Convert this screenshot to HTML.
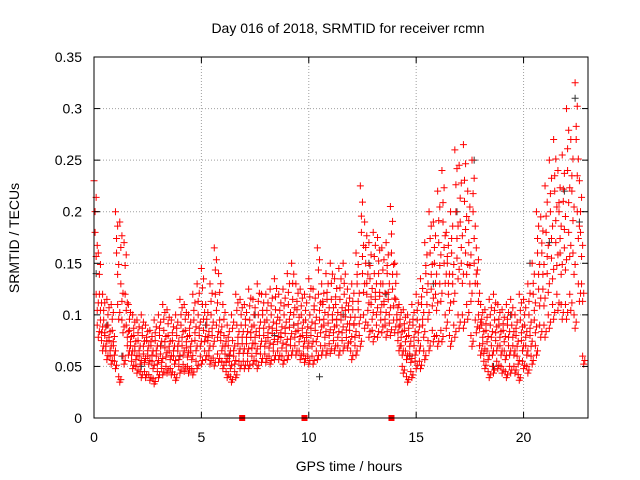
<!DOCTYPE html>
<html><head><meta charset="utf-8"><style>
body{margin:0;background:#fff}
svg{display:block;font-family:"Liberation Sans",sans-serif}
</style></head><body>
<svg id="chart" width="640" height="480" viewBox="0 0 640 480">
<rect x="0" y="0" width="640" height="480" fill="#fff"/>
<text x="348" y="33" font-size="14" text-anchor="middle">Day 016 of 2018, SRMTID for receiver rcmn</text>
<text transform="translate(19,238) rotate(-90)" font-size="14" text-anchor="middle">SRMTID / TECUs</text>
<text x="349" y="471" font-size="14" text-anchor="middle">GPS time / hours</text>
<g id="grid"></g>
<g id="marks"></g>
<g id="axes"></g>
</svg>
<script>
const xTicks=[0,5,10,15,20];
const yTicks=[0,0.05,0.1,0.15,0.2,0.25,0.3,0.35];
const yTickLabels=["0","0.05","0.1","0.15","0.2","0.25","0.3","0.35"];
const stepHours=0.2;
const hiVals=[230,160,120,115,110,200,190,170,110,100,95,100,90,85,95,100,110,105,95,100,115,110,100,120,130,145,110,130,165,140,110,90,100,120,115,110,125,115,130,120,120,125,135,120,125,140,150,130,125,120,135,125,165,130,140,150,135,145,150,125,130,160,225,190,170,180,175,165,170,205,150,110,105,100,110,120,135,170,200,190,220,240,180,200,260,245,265,220,250,165,110,105,115,120,110,105,110,115,100,120,115,130,150,200,195,225,250,270,240,255,300,270,325,230];
const midHiVals=[180,120,95,90,85,160,130,120,85,80,75,80,75,70,75,80,85,80,75,80,90,85,80,95,100,110,90,100,120,95,80,70,75,90,90,90,95,90,100,100,95,100,105,95,100,110,115,105,100,95,100,105,120,110,115,115,110,115,120,105,105,130,180,150,135,140,140,130,140,160,115,90,85,80,90,95,110,140,160,150,170,190,150,160,200,190,210,170,200,130,90,85,90,95,90,85,90,90,80,95,90,100,120,160,160,180,200,220,200,210,240,220,270,180];
const midLoVals=[120,95,80,75,70,110,95,90,70,65,60,62,60,55,60,62,68,65,60,65,70,68,65,75,80,85,75,80,90,75,62,55,60,72,72,72,78,72,80,80,78,82,85,78,82,88,90,85,80,78,80,85,95,90,92,95,90,95,98,85,90,105,140,120,110,115,118,110,115,125,95,70,65,62,70,75,90,110,125,120,130,150,120,130,155,150,160,130,150,100,72,65,70,75,70,65,70,70,60,75,70,80,95,125,125,140,155,170,160,165,180,160,200,130];
const loVals=[90,75,65,60,55,40,60,70,55,50,45,45,42,38,45,48,50,48,42,50,52,50,48,55,60,65,60,58,62,55,45,40,45,55,55,55,60,55,62,62,60,65,65,60,65,70,70,65,62,60,60,65,70,70,72,75,70,75,78,65,70,80,100,90,85,90,95,90,92,95,75,50,40,45,55,55,65,75,85,80,85,100,80,90,100,100,110,80,95,70,55,45,50,55,50,45,50,50,42,55,50,60,70,90,90,100,110,120,110,110,120,100,130,60];
const darkTimes=[0.1,0.6,1.3,2.2,3.1,4.0,5.2,6.3,7.5,8.4,9.3,10.5,11.6,12.8,13.6,14.7,15.8,16.9,17.7,18.6,19.4,20.3,21.2,21.9,22.4,22.6];
const darkVals=[0.14,0.09,0.06,0.05,0.07,0.06,0.09,0.06,0.1,0.08,0.09,0.04,0.1,0.15,0.12,0.06,0.13,0.2,0.25,0.05,0.1,0.15,0.17,0.22,0.31,0.19];
const outageTimes=[6.9,9.8,13.85];

const X0=94,X1=588,Y0=418,Y1=57,XMAX=23,YMAX=0.35;
const xs=t=>X0+(t/XMAX)*(X1-X0);
const ys=v=>Y0-(v/YMAX)*(Y0-Y1);
const NS="http://www.w3.org/2000/svg";
function mk(tag,attrs,parent){const e=document.createElementNS(NS,tag);for(const k in attrs)e.setAttribute(k,attrs[k]);parent.appendChild(e);return e;}
const grid=document.getElementById('grid'),marks=document.getElementById('marks'),axes=document.getElementById('axes');
yTicks.forEach((v,i)=>{
  if(i>0&&i<yTicks.length-1){const l=mk('line',{x1:X0,x2:X1,y1:ys(v),y2:ys(v),stroke:'#a0a0a0','stroke-dasharray':'1,2','stroke-width':1},grid);
  
  }
  const t=mk('text',{x:82,y:ys(v)+5,'font-size':14,'text-anchor':'end'},axes);t.textContent=yTickLabels[i];
  
  
  mk('line',{x1:X0,x2:X0+6,y1:ys(v),y2:ys(v),stroke:'#000'},axes);
  mk('line',{x1:X1,x2:X1-6,y1:ys(v),y2:ys(v),stroke:'#000'},axes);
});
xTicks.forEach(v=>{
  if(v>0){const l=mk('line',{x1:xs(v),x2:xs(v),y1:Y0,y2:Y1,stroke:'#a0a0a0','stroke-dasharray':'1,2','stroke-width':1},grid);
  
  }
  const t=mk('text',{x:xs(v),y:Y0+24,'font-size':14,'text-anchor':'middle'},axes);t.textContent=String(v);
  
  
  mk('line',{x1:xs(v),x2:xs(v),y1:Y0,y2:Y0-6,stroke:'#000'},axes);
  mk('line',{x1:xs(v),x2:xs(v),y1:Y1,y2:Y1+6,stroke:'#000'},axes);
});
const fr=mk('rect',{x:X0,y:Y1,width:X1-X0,height:Y0-Y1,fill:'none',stroke:'#000'},axes);


function plus(x,y,c,name){const p=mk('path',{d:`M${x-3.5},${y}h7M${x},${y-3.5}v7`,stroke:c,'stroke-width':1,fill:'none'},marks);
  
  }
darkTimes.forEach((t,i)=>plus(xs(t),ys(darkVals[i]),'#333','dark-point'));
[hiVals,midHiVals,midLoVals,loVals].forEach((arr,k)=>{
  arr.forEach((v,i)=>{
    const t=i*stepHours+k*0.05;
    plus(xs(t),ys(v/1000),'#ff0000','red-point');
    plus(xs(t+0.1),ys(v/1000*0.93),'#ff0000','red-point');
    plus(xs(t+0.05),ys(v/1000*0.87),'#ff0000','red-point');
  });
});
outageTimes.forEach(t=>{const r=mk('rect',{x:xs(t)-3,y:Y0-3,width:6,height:6,fill:'#ff0000'},marks);
  
  });
</script>
</body></html>
